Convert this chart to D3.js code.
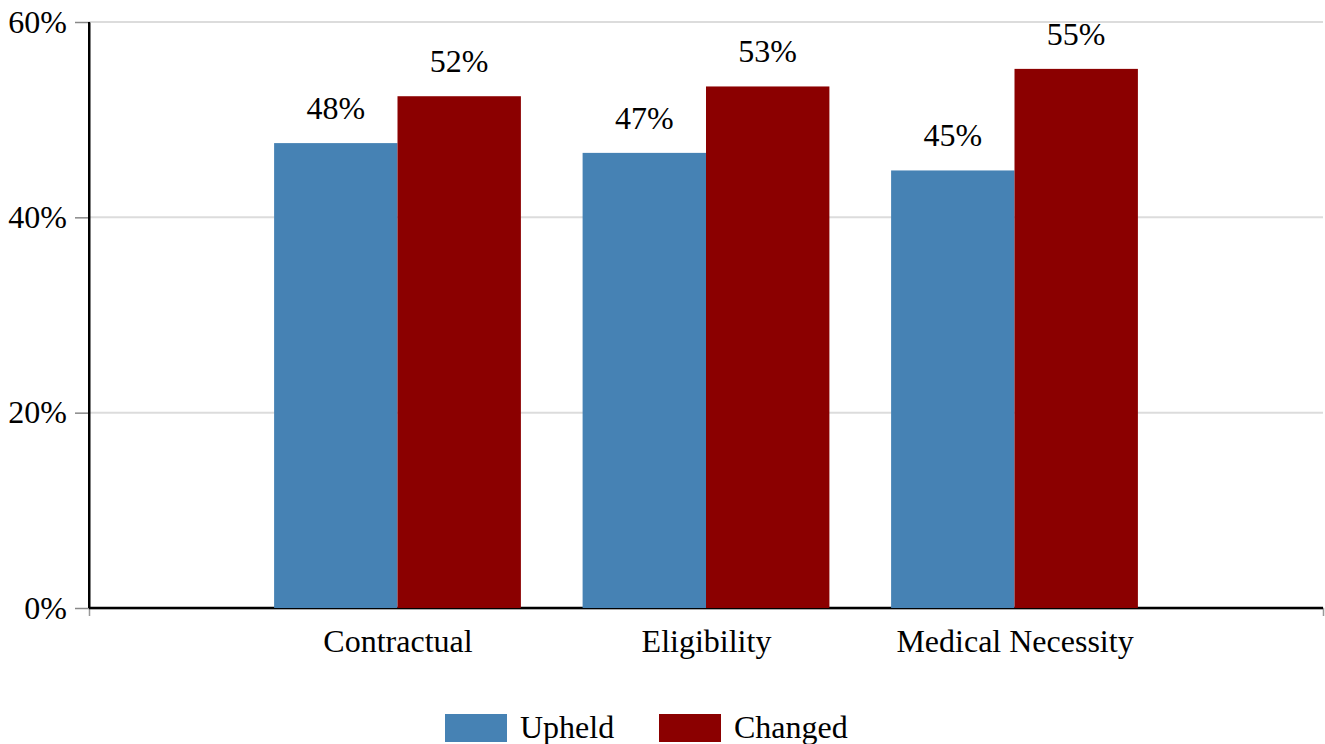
<!DOCTYPE html>
<html>
<head>
<meta charset="utf-8">
<script src="https://cdn.jsdelivr.net/npm/d3@7"></script>
<style>
  body { margin: 0; background: #fff; }
  svg text { font-family: "Liberation Serif", "Times New Roman", serif; fill: #000; }
</style>
</head>
<body>
<svg id="chart" width="1325" height="744"></svg>
<script>
// data
var categories = ["Contractual", "Eligibility", "Medical Necessity"];
var series = ["Upheld", "Changed"];
var upheld = [47.6, 46.6, 44.8];
var changed = [52.4, 53.4, 55.2];
var yTicks = [0, 20, 40, 60];
var colors = ["#4682b4", "#8b0000"];

var margin = { top: 22, right: 2, bottom: 136, left: 89 };
var totalWidth = 1325, totalHeight = 744;
var width = totalWidth - margin.left - margin.right;
var height = totalHeight - margin.top - margin.bottom;
var fontSize = "32px";

var svg = d3.select("#chart");
var g = svg.append("g").attr("transform", "translate(" + margin.left + "," + margin.top + ")");

var x = d3.scalePoint().domain(categories).range([0, width]).padding(1);
var step = x.step();
var x1 = d3.scaleBand().domain(series).range([-step * 0.4, step * 0.4]);
var y = d3.scaleLinear().domain([0, 60]).range([height, 0]);
var color = d3.scaleOrdinal().domain(series).range(colors);

// gridlines
g.selectAll(".grid")
    .data(yTicks.filter(function (d) { return d > 0; }))
    .enter().append("line")
    .attr("class", "grid")
    .attr("x1", 0)
    .attr("x2", width)
    .attr("y1", function (d) { return y(d); })
    .attr("y2", function (d) { return y(d); })
    .style("stroke", "#dcdcdc")
    .style("stroke-width", 2);

// y axis
var yAxis = g.append("g")
    .call(d3.axisLeft(y).tickValues(yTicks).tickSizeInner(14).tickSizeOuter(0).tickPadding(8)
        .tickFormat(function (d) { return d + "%"; }));
yAxis.select(".domain").style("stroke", "#000").style("stroke-width", 2);
yAxis.selectAll(".tick line").style("stroke", "#888").style("stroke-width", 1.5);
yAxis.selectAll("text").style("font-size", fontSize);

// x axis
var xAxis = g.append("g")
    .attr("transform", "translate(0," + height + ")")
    .call(d3.axisBottom(x).tickSizeInner(0).tickSizeOuter(8).tickPadding(21));
xAxis.select(".domain").style("stroke", "#999").style("stroke-width", 1.5);
xAxis.selectAll("text").style("font-size", fontSize);

g.append("line")
    .attr("x1", 0).attr("x2", width)
    .attr("y1", height).attr("y2", height)
    .style("stroke", "#000").style("stroke-width", 2.5);

// bars
var rows = categories.map(function (c, i) {
    return { cat: c, values: [{ key: "Upheld", value: upheld[i] }, { key: "Changed", value: changed[i] }] };
});

var groups = g.selectAll(".group")
    .data(rows)
    .enter().append("g")
    .attr("class", "group")
    .attr("transform", function (d) { return "translate(" + x(d.cat) + ",0)"; });

groups.selectAll("rect")
    .data(function (d) { return d.values; })
    .enter().append("rect")
    .attr("x", function (d) { return x1(d.key); })
    .attr("width", x1.bandwidth())
    .attr("y", function (d) { return y(d.value); })
    .attr("height", function (d) { return height - y(d.value); })
    .style("fill", function (d) { return color(d.key); });

groups.selectAll(".val")
    .data(function (d) { return d.values; })
    .enter().append("text")
    .attr("class", "val")
    .attr("x", function (d) { return x1(d.key) + x1.bandwidth() / 2; })
    .attr("y", function (d) { return y(d.value) - 24; })
    .attr("text-anchor", "middle")
    .style("font-size", fontSize)
    .text(function (d) { return Math.round(d.value) + "%"; });

// y axis line over bars
g.append("line")
    .attr("x1", 0).attr("x2", 0)
    .attr("y1", 0).attr("y2", height)
    .style("stroke", "#000").style("stroke-width", 2);

// legend
var legend = svg.append("g").attr("transform", "translate(445,714)");
var legendX = [0, 214];
var items = legend.selectAll(".item")
    .data(series)
    .enter().append("g")
    .attr("class", "item")
    .attr("transform", function (d, i) { return "translate(" + legendX[i] + ",0)"; });
items.append("rect")
    .attr("width", 62)
    .attr("height", 28)
    .style("fill", function (d) { return color(d); });
items.append("text")
    .attr("x", 75)
    .attr("y", 24)
    .style("font-size", fontSize)
    .text(function (d) { return d; });
</script>
</body>
</html>
